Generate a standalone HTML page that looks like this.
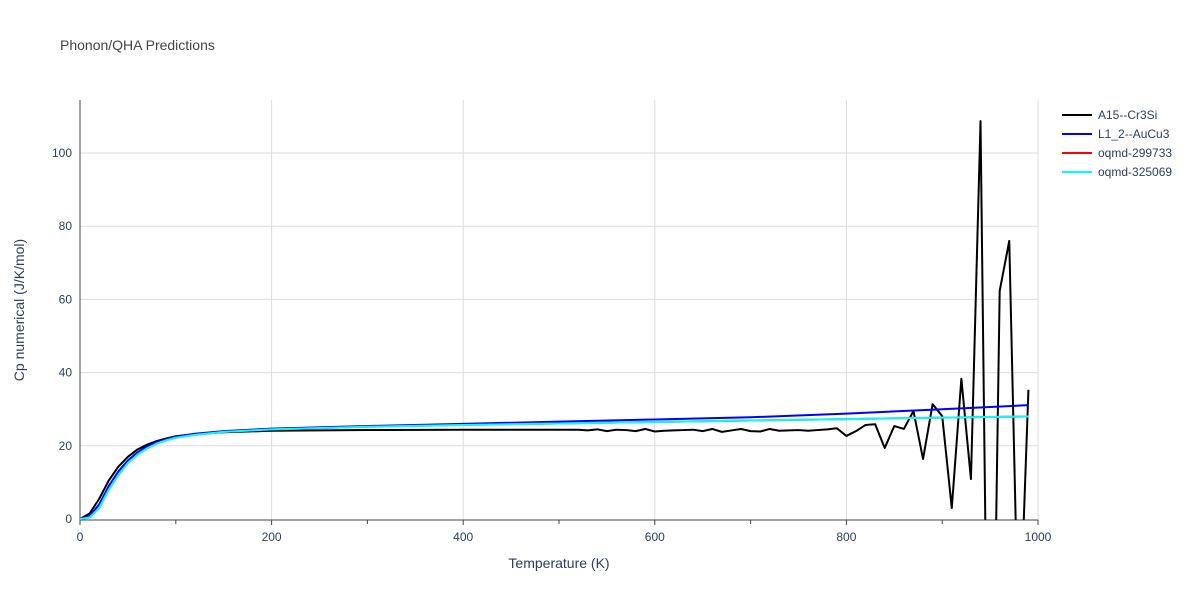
<!DOCTYPE html>
<html><head><meta charset="utf-8"><style>
html,body{margin:0;padding:0;width:1200px;height:600px;overflow:hidden;background:#fff;font-family:"Liberation Sans",sans-serif;}
svg{display:block;}
svg text{font-family:"Liberation Sans",sans-serif;fill:#2a3f5f;}
</style></head><body>
<svg id="chart" width="1200" height="600" xmlns="http://www.w3.org/2000/svg">
<rect width="1200" height="600" fill="#fff"/>
<text x="60" y="50" font-size="14" style="fill:#444">Phonon/QHA Predictions</text>
<defs><clipPath id="pc"><rect x="80" y="100" width="958" height="420"/></clipPath></defs>
<g id="grid"></g><g id="axes"></g>
<g id="series" clip-path="url(#pc)"></g>
<text x="559" y="568" font-size="14" text-anchor="middle">Temperature (K)</text>
<text transform="translate(24,310) rotate(-90)" font-size="14" text-anchor="middle">Cp numerical (J/K/mol)</text>
<g id="legend"></g>
</svg>
<script>
const blackTemps=[0,10,20,30,40,50,60,70,80,90,100,120,150,200,300,400,500,520,530,540,550,560,570,580,590,600,610,620,630,640,650,660,670,680,690,700,710,720,730,740,750,760,770,780,790,800,810,820,830,840,850,860,870,880,890,900,910,920,930,940,950,960,970,980,990];
const blackVals=[0,1.5,5.5,10.5,14.3,17,19,20.3,21.3,22,22.6,23.2,23.7,24.1,24.3,24.4,24.4,24.4,24.2,24.5,24.0,24.4,24.3,24.0,24.6,23.9,24.1,24.2,24.3,24.4,24.0,24.6,23.8,24.2,24.6,24.0,23.9,24.6,24.1,24.2,24.3,24.1,24.3,24.5,24.8,22.7,24.0,25.7,25.9,19.4,25.4,24.6,29.5,16.4,31.4,28.1,3.0,38.3,10.9,108.7,-110,62.3,76,-38,35.3];
const smoothTemps=[0,10,20,30,40,50,60,70,80,90,100,120,150,200,300,400,500,600,700,800,900,990];
const blueVals=[0,0.8,4,9,13,16,18.2,19.8,21,21.8,22.5,23.3,24,24.7,25.4,26,26.6,27.2,27.8,28.8,30,31.1];
const redVals=[0,0.4,3,8,12,15.3,17.6,19.3,20.6,21.5,22.2,23,23.8,24.5,25.2,25.7,26.1,26.5,26.9,27.3,27.7,28.0];
const cyanVals=[0,0.4,3,8,12,15.3,17.6,19.3,20.6,21.5,22.2,23,23.8,24.5,25.2,25.7,26.1,26.5,26.9,27.3,27.7,28.0];
const xTicks=[0,200,400,600,800,1000];
const yTicks=[0,20,40,60,80,100];
const seriesNames=["A15--Cr3Si","L1_2--AuCu3","oqmd-299733","oqmd-325069"];
const seriesColors=["#000000","#0000ff","#ff0000","#00ffff"];

const NS="http://www.w3.org/2000/svg";
const X=t=>80+t*(958/1000);
const Y=v=>519-v*3.66;
function mk(tag,attrs,parent){const e=document.createElementNS(NS,tag);for(const k in attrs)e.setAttribute(k,attrs[k]);parent.appendChild(e);return e;}
const grid=document.getElementById('grid'),axes=document.getElementById('axes'),series=document.getElementById('series'),legend=document.getElementById('legend');
xTicks.forEach(t=>{
  if(t>0){const l=mk('line',{x1:X(t),x2:X(t),y1:100,y2:520,stroke:'#ddd'},grid);
  
  }
  const tx=mk('text',{x:X(t),y:541,'font-size':12,'text-anchor':'middle'},axes);tx.textContent=t;
  
  
});
for(let t=100;t<1000;t+=200){const m=mk('line',{x1:X(t),x2:X(t),y1:520,y2:524,stroke:'#444'},axes);
  
  }
xTicks.forEach(t=>{const m=mk('line',{x1:X(t),x2:X(t),y1:520,y2:525,stroke:'#444'},axes);
  
  });
yTicks.forEach(v=>{
  if(v>0){const l=mk('line',{x1:80,x2:1038,y1:Y(v),y2:Y(v),stroke:'#ddd'},grid);
  
  }
  const tx=mk('text',{x:72,y:Y(v)+4,'font-size':12,'text-anchor':'end'},axes);tx.textContent=v;
  
  
});
const xa=mk('line',{x1:80,x2:1038,y1:520,y2:520,stroke:'#444'},axes);


const ya=mk('line',{x1:80,x2:80,y1:100,y2:520,stroke:'#444'},axes);


function line(ts,vs,color,name){
  const p=mk('polyline',{points:ts.map((t,i)=>X(t)+','+Y(vs[i])).join(' '),fill:'none',stroke:color,'stroke-width':2,'stroke-linejoin':'round'},series);
  
  
}
line(blackTemps,blackVals,seriesColors[0],'series-a15-cr3si');
line(smoothTemps,blueVals,seriesColors[1],'series-l12-aucu3');
line(smoothTemps,redVals,seriesColors[2],'series-oqmd-299733');
line(smoothTemps,cyanVals,seriesColors[3],'series-oqmd-325069');
seriesNames.forEach((n,i)=>{
  const y=115+i*19;
  const g=mk('g',{},legend);
  
  
  mk('line',{x1:1062,x2:1092,y1:y,y2:y,stroke:seriesColors[i],'stroke-width':2},g);
  const t=mk('text',{x:1098,y:y+4,'font-size':12},g);t.textContent=n;
});
</script>
</body></html>
